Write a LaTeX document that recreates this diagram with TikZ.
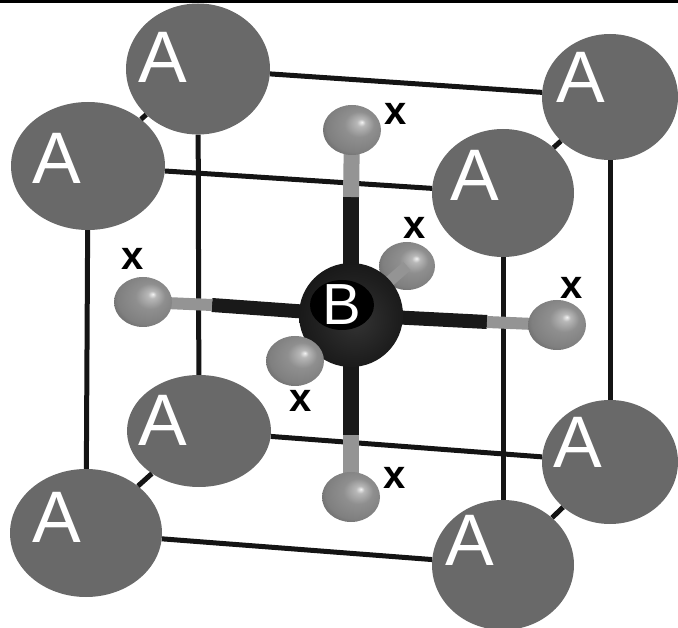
\documentclass[tikz,border=0pt]{standalone}
\usepackage{fontspec}
\setmainfont{Liberation Sans}
\usetikzlibrary{shapes.geometric}
\pgfdeclareradialshading{xball}{\pgfpoint{0.3cm}{0.28cm}}{
  color(0cm)=(white!95!black);
  color(0.13cm)=(white!72!black);
  color(0.45cm)=(white!56!black);
  color(0.9cm)=(white!50!black);
  color(1.2cm)=(white!38!black);
  color(1.6cm)=(white!32!black)}
\pgfdeclareradialshading{bball}{\pgfpoint{0.1cm}{-0.1cm}}{
  color(0cm)=(black!80);
  color(0.7cm)=(black!88);
  color(1.1cm)=(black!92);
  color(1.6cm)=(black)}
\definecolor{agray}{gray}{0.41}
\tikzset{
  x=1pt,y=-1pt,
  asite/.style={ellipse,fill=agray,inner sep=0pt,minimum width=#1},
  alabel/.style={text=white,font=\fontsize{73}{73}\selectfont,inner sep=0pt},
  xsite/.style={ellipse,shading=xball,inner sep=0pt,minimum width=#1},
  xlabel/.style={font=\bfseries\fontsize{40}{40}\selectfont,inner sep=0pt},
  edge/.style={draw=black!92,line width=5pt},
  bondd/.style={draw=black!90,line width=16pt},
  bondg/.style={draw=black!42,line width=16pt}
}
\begin{document}
\begin{tikzpicture}
\useasboundingbox (0,0) rectangle (678,628);
\fill[black] (0,0) rectangle (678,3);
% A sites
\node[asite=144pt,minimum height=131pt] (a1) at (198,69) {};
\node[asite=154pt,minimum height=128pt] (a2) at (88,166) {};
\node[asite=136pt,minimum height=126pt] (a3) at (610,97) {};
\node[asite=142pt,minimum height=128pt] (a4) at (503,193) {};
\node[asite=144pt,minimum height=112pt] (a5) at (199,431) {};
\node[asite=152pt,minimum height=128pt] (a6) at (86,533) {};
\node[asite=136pt,minimum height=124pt] (a7) at (610,462) {};
\node[asite=142pt,minimum height=130pt] (a8) at (503,565) {};
% cube edges
\draw[edge] (a1) -- (a3);
\draw[edge] (a1) -- (a2);
\draw[edge] (a1) -- (a5);
\draw[edge] (a2) -- (a4);
\draw[edge] (a2) -- (a6);
\draw[edge] (a3) -- (a4);
\draw[edge] (a3) -- (a7);
\draw[edge] (a4) -- (a8);
\draw[edge] (a5) -- (a6);
\draw[edge] (a5) -- (a7);
\draw[edge] (a6) -- (a8);
\draw[edge] (a7) -- (a8);
% octahedron
\coordinate (bc) at (351,315);
\coordinate (tg) at (351,197);
\coordinate (dg) at (351,435);
\coordinate (lg) at (212,305);
\coordinate (rg) at (487,322);
\node[xsite=56pt,minimum height=48pt] (xb) at (407,266) {};
\draw[bondg,line width=11pt] (xb.center) -- (bc);
\draw[bondd] (tg) -- (bc);
\draw[bondd] (dg) -- (bc);
\draw[bondd,line width=14pt] (lg) -- (bc);
\draw[bondd,line width=14pt] (rg) -- (bc);
\draw[bondg] (352,130) -- (tg);
\draw[bondg] (351,497) -- (dg);
\draw[bondg,line width=12pt] (143,302) -- (lg);
\draw[bondg,line width=12pt] (557,325) -- (rg);
\node[xsite=58pt,minimum height=50pt] (xt) at (352,130) {};
\node[xsite=58pt,minimum height=50pt] (xd) at (351,497) {};
\node[xsite=58pt,minimum height=50pt] (xl) at (143,302) {};
\node[xsite=58pt,minimum height=50pt] (xr) at (557,325) {};
\node[circle,shading=bball,minimum size=104pt,inner sep=0pt] (b) at (bc) {};
\node[ellipse,fill=black,minimum width=64pt,minimum height=50pt,inner sep=0pt] (be) at (342,305) {};
\node[xsite=58pt,minimum height=50pt] (xf) at (295,361) {};
% labels
\node[alabel] (la1) at (163,57) {A};
\node[alabel] (la2) at (57,158) {A};
\node[alabel] (la3) at (581,77) {A};
\node[alabel] (la4) at (475,175) {A};
\node[alabel] (la5) at (163,420) {A};
\node[alabel] (la6) at (57,517) {A};
\node[alabel] (la7) at (578,442) {A};
\node[alabel] (la8) at (470,540) {A};
\node[text=white,font=\fontsize{58}{58}\selectfont,inner sep=0pt] (lb) at (342,305) {B};
\node[xlabel] (lx1) at (396,114) {x};
\node[xlabel] (lx2) at (415,228) {x};
\node[xlabel] (lx3) at (133,259) {x};
\node[xlabel] (lx4) at (572,288) {x};
\node[xlabel] (lx5) at (301,401) {x};
\node[xlabel] (lx6) at (395,478) {x};
\end{tikzpicture}
\end{document}
